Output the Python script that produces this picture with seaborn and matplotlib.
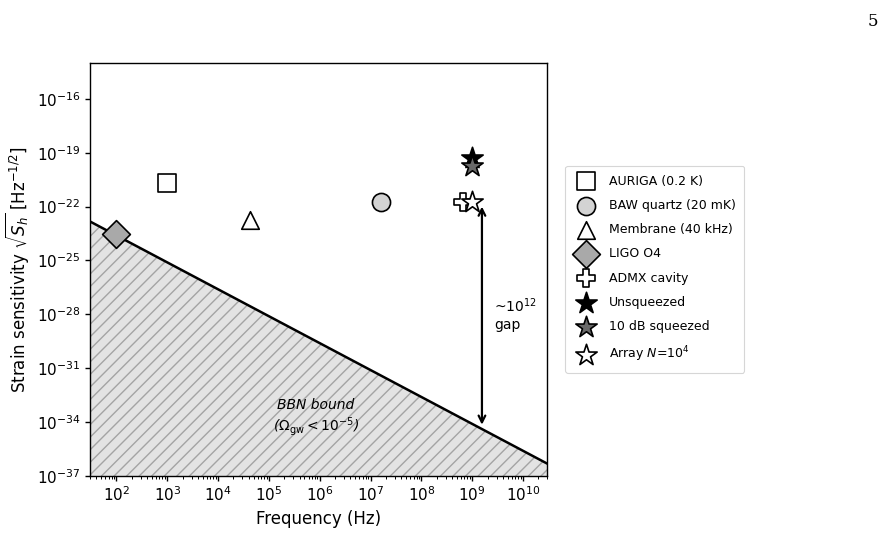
import numpy as np
import pandas as pd
import matplotlib
matplotlib.use("Agg")
import matplotlib.pyplot as plt
import seaborn as sns

# Detector data
labels = ["AURIGA (0.2 K)", "BAW quartz (20 mK)", "Membrane (40 kHz)", "LIGO O4",
          "ADMX cavity", "Unsqueezed", "10 dB squeezed", "Array $N$=10$^4$"]
freqs = [1e3, 1.6e7, 4.2e4, 1e2, 6.5e8, 1e9, 1e9, 1e9]
strain = [2e-21, 1.9e-22, 1.9e-23, 2.8e-24, 1.9e-22, 5e-20, 1.8e-20, 1.9e-22]
markers = ["s", "o", "^", "D", "P", "*", "*", "*"]
faces = ["white", "lightgray", "white", "darkgray", "white", "black", "dimgray", "white"]
sizes = [150, 170, 160, 200, 150, 260, 260, 260]

# BBN bound: sqrt(S_h) ~ f^-3/2
bbn_f = [30, 3e10]
bbn_amp = 10 ** -20.61
bbn_slope = -1.5

gap_freq = 1.55e9
gap_top, gap_bottom = 1e-22, 7e-35

# render at dpi 113 (hatch spacing follows dpi), point sizes scaled back
DPI = 113
SC = 100 / DPI

sns.set_style("ticks", {"axes.edgecolor": "black", "xtick.color": "black",
                        "ytick.color": "black", "text.color": "black",
                        "axes.labelcolor": "black"})
plt.rcParams["hatch.linewidth"] = 1.0 * SC
fig, ax = plt.subplots(figsize=(890 / DPI, 534 / DPI), dpi=DPI)
fig.subplots_adjust(left=0.101, right=0.615, top=0.882, bottom=0.109)

f = np.logspace(np.log10(bbn_f[0]), np.log10(bbn_f[1]), 200)
h = bbn_amp * f ** bbn_slope
ax.fill_between(f, 1e-40, h, facecolor="#e3e3e3", edgecolor="#a4a4a4",
                hatch="///", linewidth=0, zorder=1)
sns.lineplot(x=f, y=h, color="black", linewidth=1.8 * SC, ax=ax, zorder=2)

for i in range(len(labels)):
    df = pd.DataFrame({"f": [freqs[i]], "h": [strain[i]]})
    sns.scatterplot(data=df, x="f", y="h", marker=markers[i], s=sizes[i] * SC ** 2,
                    color=faces[i], edgecolor="black", linewidth=1.2 * SC,
                    label=labels[i], ax=ax, zorder=4)

ax.set_xscale("log")
ax.set_yscale("log")
ax.set_xlim(30, 3e10)
ax.set_ylim(1e-37, 1e-14)
ax.set_yticks([10.0 ** k for k in range(-37, -14, 3)])
ax.yaxis.set_minor_locator(matplotlib.ticker.NullLocator())
ax.set_xticks([10.0 ** k for k in range(2, 11)])
ax.tick_params(which="major", labelsize=11 * SC, length=3.5 * SC, width=1.0 * SC, pad=3.5 * SC)
ax.tick_params(which="minor", length=2 * SC, width=0.7 * SC)

ax.annotate("", xy=(gap_freq, gap_bottom), xytext=(gap_freq, gap_top),
            arrowprops=dict(arrowstyle="<->", color="black", lw=1.6 * SC,
                            mutation_scale=12 * SC, shrinkA=0, shrinkB=0))
ax.text(2.7e9, 1e-28, "~10$^{12}$\ngap", fontsize=10 * SC, ha="left", va="center")
ax.text(8.3e5, 1.6e-34, "BBN bound\n($\\Omega_{\\rm gw} < 10^{-5}$)",
        fontsize=10 * SC, style="italic", ha="center", va="center")

ax.set_xlabel("Frequency (Hz)", fontsize=12 * SC, labelpad=4 * SC)
ax.set_ylabel("Strain sensitivity $\\sqrt{S_h}$ [Hz$^{-1/2}$]", fontsize=12 * SC,
              labelpad=4 * SC)
for sp in ax.spines.values():
    sp.set_visible(True)
    sp.set_linewidth(1.0 * SC)

leg = ax.legend(loc="center left", bbox_to_anchor=(1.025, 0.5), fontsize=9 * SC,
                labelspacing=0.9, borderpad=0.7, handletextpad=0.8, markerscale=1.0)
leg.get_frame().set_linewidth(0.8 * SC)

fig.text(0.987, 0.975, "5", fontsize=12 * SC, family="DejaVu Serif", ha="right", va="top")

fig.savefig("out.png", dpi=DPI)
